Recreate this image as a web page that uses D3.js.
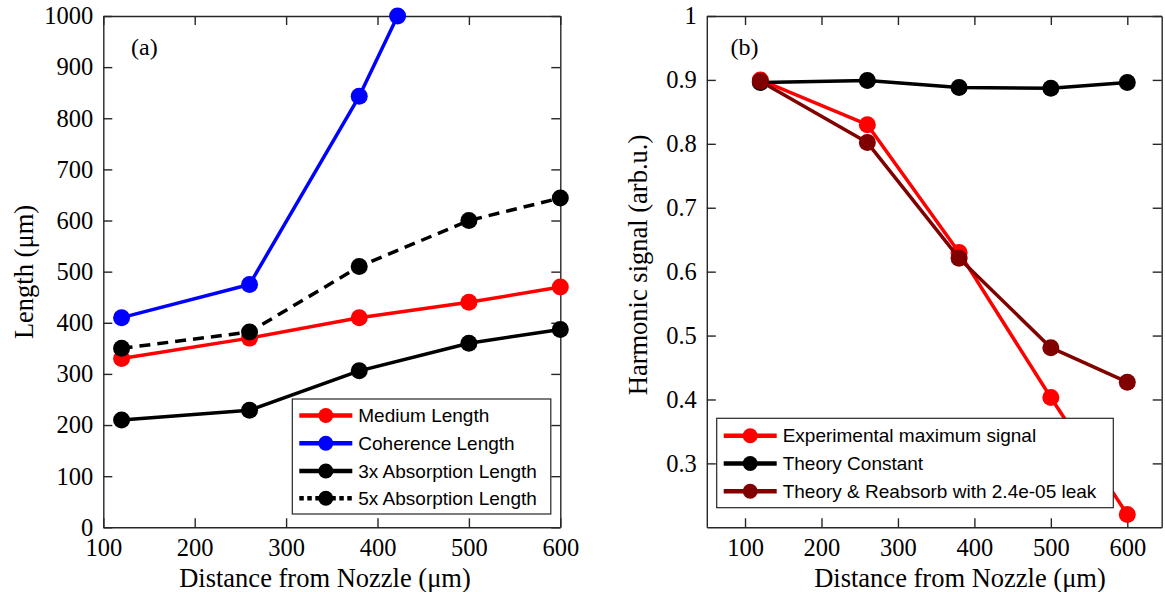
<!DOCTYPE html>
<html>
<head>
<meta charset="utf-8">
<script src="https://cdn.jsdelivr.net/npm/d3@7"></script>
<style>
  html, body { margin: 0; padding: 0; background: #fff; }
  svg { display: block; }
</style>
</head>
<body>
<svg id="chart" width="1165" height="592"></svg>
<script>
// ---------- data ----------
const distances = [120, 260, 380, 500, 600];
const mediumLength = [330, 370, 410, 440, 470];
const coherenceX = [120, 260, 380, 422];
const coherenceLength = [410, 475, 843, 1000];
const absorption3x = [210, 229, 306, 360, 387];
const absorption5x = [350, 382, 510, 600, 644];

const experimentalSignal = [0.900, 0.830, 0.630, 0.403, 0.220];
const theoryConstant = [0.896, 0.899, 0.888, 0.887, 0.896];
const theoryReabsorb = [0.898, 0.802, 0.621, 0.481, 0.427];

const xTicks = [100, 200, 300, 400, 500, 600];
const yTicksA = [0, 100, 200, 300, 400, 500, 600, 700, 800, 900, 1000];
const yTicksB = [0.3, 0.4, 0.5, 0.6, 0.7, 0.8, 0.9, 1.0];

const legendA = ["Medium Length", "Coherence Length", "3x Absorption Length", "5x Absorption Length"];
const legendB = ["Experimental maximum signal", "Theory Constant", "Theory & Reabsorb with 2.4e-05 leak"];

// ---------- setup ----------
const svg = d3.select("#chart");
const AX = "#262626";
const serif = "'Liberation Serif', 'Times New Roman', serif";
const sans = "'Liberation Sans', Arial, sans-serif";
const TICKFS = 24.5, LABFS = 26.5, LEGFS = 19;
const LW = 3.5, R = 8.5;

function drawFrame(g, x, y, xt, yt, yfmt) {
  const [x0, x1] = x.range();
  const [y0, y1] = y.range(); // y0 bottom, y1 top
  const styleAxis = sel => {
    sel.selectAll("path").attr("stroke", AX).attr("stroke-width", 1.4);
    sel.selectAll("line").attr("stroke", AX).attr("stroke-width", 1.4);
    sel.selectAll("text").attr("fill", "#000").attr("font-family", serif).attr("font-size", TICKFS);
  };
  g.append("g").attr("transform", `translate(0,${y0})`)
    .call(d3.axisBottom(x).tickValues(xt).tickSize(-9).tickSizeOuter(0).tickPadding(11).tickFormat(d3.format("d")))
    .call(styleAxis);
  g.append("g").attr("transform", `translate(0,${y1})`)
    .call(d3.axisTop(x).tickValues(xt).tickSize(-9).tickSizeOuter(0).tickFormat(""))
    .call(styleAxis);
  g.append("g").attr("transform", `translate(${x0},0)`)
    .call(d3.axisLeft(y).tickValues(yt).tickSize(-9).tickSizeOuter(0).tickPadding(10).tickFormat(yfmt))
    .call(styleAxis);
  g.append("g").attr("transform", `translate(${x1},0)`)
    .call(d3.axisRight(y).tickValues(yt).tickSize(-9).tickSizeOuter(0).tickFormat(""))
    .call(styleAxis);
  g.selectAll(".domain").attr("stroke", AX);
}

function drawSeries(g, x, y, xs, ys, color, dash) {
  const pts = xs.map((d, i) => [d, ys[i]]);
  const line = d3.line().x(d => x(d[0])).y(d => y(d[1]));
  g.append("path").datum(pts).attr("d", line)
    .attr("fill", "none").attr("stroke", color).attr("stroke-width", LW)
    .attr("stroke-dasharray", dash || null).attr("stroke-linejoin", "round");
  g.selectAll(null).data(pts).enter().append("circle")
    .attr("cx", d => x(d[0])).attr("cy", d => y(d[1])).attr("r", R).attr("fill", color);
}

function drawLegend(g, x0, y0, w, h, rowY, items) {
  g.append("rect").attr("x", x0).attr("y", y0).attr("width", w).attr("height", h)
    .attr("fill", "#fff").attr("stroke", AX).attr("stroke-width", 1.2);
  items.forEach((it, i) => {
    const cy = rowY[i];
    g.append("line").attr("x1", x0 + 7).attr("x2", x0 + 60).attr("y1", cy).attr("y2", cy)
      .attr("stroke", it.color).attr("stroke-width", 4.5)
      .attr("stroke-dasharray", it.dash ? "4.5,3.5" : null);
    g.append("circle").attr("cx", x0 + 33.5).attr("cy", cy).attr("r", 7.5).attr("fill", it.color);
    g.append("text").attr("x", x0 + 66).attr("y", cy).attr("dy", "0.35em")
      .attr("font-family", sans).attr("font-size", LEGFS).attr("fill", "#000").text(it.label);
  });
}

// ---------- panel (a) ----------
const xA = d3.scaleLinear().domain([100, 600]).range([103.3, 560.3]);
const yA = d3.scaleLinear().domain([0, 1000]).range([527.3, 16]);
const gA = svg.append("g");
drawFrame(gA, xA, yA, xTicks, yTicksA, d3.format("d"));
drawSeries(gA, xA, yA, distances, mediumLength, "#ff0000");
drawSeries(gA, xA, yA, coherenceX, coherenceLength, "#0000ff");
drawSeries(gA, xA, yA, distances, absorption3x, "#000000");
drawSeries(gA, xA, yA, distances, absorption5x, "#000000", "11,7");
gA.append("text").attr("x", 131).attr("y", 55).attr("font-family", serif).attr("font-size", 24).text("(a)");
drawLegend(gA, 292.3, 399, 258.5, 115, [415.5, 443.3, 471, 498.3], [
  { label: legendA[0], color: "#ff0000" },
  { label: legendA[1], color: "#0000ff" },
  { label: legendA[2], color: "#000000" },
  { label: legendA[3], color: "#000000", dash: true }
]);
gA.append("text").attr("x", 325).attr("y", 587).attr("text-anchor", "middle")
  .attr("font-family", serif).attr("font-size", LABFS).text("Distance from Nozzle (μm)");
gA.append("text").attr("transform", `translate(33,272) rotate(-90)`).attr("text-anchor", "middle")
  .attr("font-family", serif).attr("font-size", LABFS).text("Length (μm)");

// ---------- panel (b) ----------
const xB = d3.scaleLinear().domain([50, 645]).range([706.8, 1161.7]);
const yB = d3.scaleLinear().domain([0.2, 1]).range([527.3, 16]);
const gB = svg.append("g");
drawFrame(gB, xB, yB, xTicks, yTicksB, d => d === 1 ? "1" : d3.format(".1f")(d));
drawSeries(gB, xB, yB, distances, experimentalSignal, "#ff0000");
drawSeries(gB, xB, yB, distances, theoryConstant, "#000000");
drawSeries(gB, xB, yB, distances, theoryReabsorb, "#800000");
gB.append("text").attr("x", 730.5).attr("y", 55).attr("font-family", serif).attr("font-size", 24).text("(b)");
drawLegend(gB, 716.7, 418.3, 396.6, 89.4, [435.7, 463.5, 491.2], [
  { label: legendB[0], color: "#ff0000" },
  { label: legendB[1], color: "#000000" },
  { label: legendB[2], color: "#800000" }
]);
gB.append("text").attr("x", 960).attr("y", 587).attr("text-anchor", "middle")
  .attr("font-family", serif).attr("font-size", LABFS).text("Distance from Nozzle (μm)");
gB.append("text").attr("transform", `translate(647,265) rotate(-90)`).attr("text-anchor", "middle")
  .attr("font-family", serif).attr("font-size", LABFS).text("Harmonic signal (arb.u.)");
</script>
</body>
</html>
